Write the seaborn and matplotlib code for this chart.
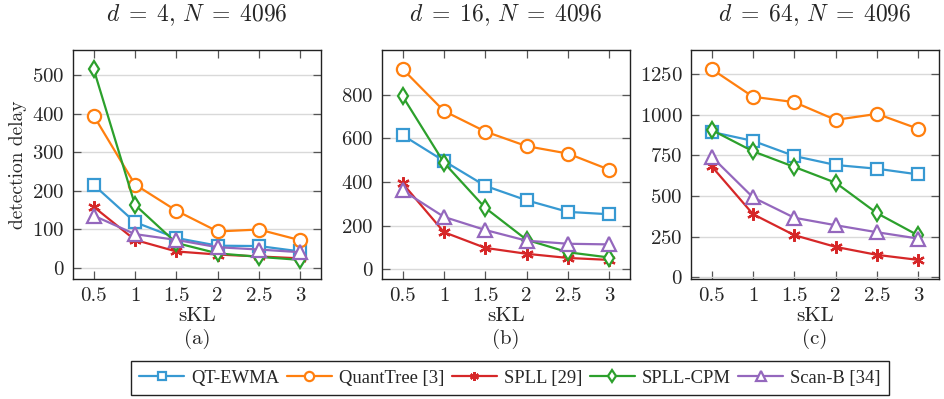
import numpy as np
import pandas as pd
import matplotlib
matplotlib.use("Agg")
import matplotlib.pyplot as plt
import seaborn as sns

# ---------------- data ----------------
skl = [0.5, 1, 1.5, 2, 2.5, 3]
xtick_labels = ["0.5", "1", "1.5", "2", "2.5", "3"]
methods = ["QT-EWMA", "QuantTree [3]", "SPLL [29]", "SPLL-CPM", "Scan-B [34]"]
titles = [r"$d\;=\;4,\,N\;=\;4096$", r"$d\;=\;16,\,N\;=\;4096$", r"$d\;=\;64,\,N\;=\;4096$"]
panel_tags = ["(a)", "(b)", "(c)"]

# panel (a): d = 4
a_qtewma = [215, 118, 77, 57, 56, 42]
a_quanttree = [395, 216, 148, 94, 99, 71]
a_spll = [158, 72, 42, 34, 29, 24]
a_spllcpm = [516, 163, 64, 37, 28, 20]
a_scanb = [135, 87, 72, 53, 47, 40]

# panel (b): d = 16
b_qtewma = [614, 496, 382, 316, 263, 252]
b_quanttree = [917, 725, 631, 564, 530, 456]
b_spll = [393, 170, 98, 71, 52, 43]
b_spllcpm = [792, 488, 281, 135, 78, 54]
b_scanb = [361, 240, 180, 131, 117, 114]

# panel (c): d = 64
c_qtewma = [893, 838, 745, 690, 667, 632]
c_quanttree = [1279, 1109, 1076, 967, 1004, 912]
c_spll = [682, 388, 259, 187, 138, 107]
c_spllcpm = [905, 774, 678, 581, 394, 257]
c_scanb = [741, 491, 366, 320, 277, 238]

yticks = [[0, 100, 200, 300, 400, 500],
          [0, 200, 400, 600, 800],
          [0, 250, 500, 750, 1000, 1250]]

panels = [
    [a_qtewma, a_quanttree, a_spll, a_spllcpm, a_scanb],
    [b_qtewma, b_quanttree, b_spll, b_spllcpm, b_scanb],
    [c_qtewma, c_quanttree, c_spll, c_spllcpm, c_scanb],
]

# ---------------- style ----------------
colors = ["#3799d2", "#ff7f0e", "#d62728", "#2ca02c", "#9467bd"]
markers = ["s", "o", (6, 2, 0), "d", "^"]
msizes = [9, 9.5, 9, 8.5, 9.5]

sns.set_theme(style="white")
plt.rcParams["font.family"] = ["cmr10", "DejaVu Serif"]
plt.rcParams["mathtext.fontset"] = "cm"
plt.rcParams["axes.formatter.use_mathtext"] = True

W, H = 944, 399
fig = plt.figure(figsize=(W / 100, H / 100), dpi=100)

lefts = [73, 382, 691]
ax_w = 248
top_px, bot_px = 50, 279

handles = None
for i, (left, series) in enumerate(zip(lefts, panels)):
    ax = fig.add_axes([left / W, 1 - bot_px / H, ax_w / W, (bot_px - top_px) / H])
    for name, vals, c, m, ms in zip(methods, series, colors, markers, msizes):
        df = pd.DataFrame({"sKL": skl, "delay": vals})
        sns.lineplot(data=df, x="sKL", y="delay", ax=ax, color=c, marker=m,
                     markersize=ms, markerfacecolor="white", markeredgecolor=c,
                     markeredgewidth=1.6, linewidth=1.6, label=name, legend=False)
    allv = np.concatenate([np.array(s, dtype=float) for s in series])
    lo, hi = allv.min(), allv.max()
    pad = 0.1 * (hi - lo)
    ax.set_ylim(lo - pad, hi + pad)
    ax.set_xlim(0.25, 3.25)
    ax.set_xticks(skl)
    ax.set_xticklabels(xtick_labels)
    ax.set_yticks(yticks[i])
    ax.yaxis.grid(True, color="#d9d9d9", linewidth=1.0)
    ax.xaxis.grid(False)
    ax.set_axisbelow(True)
    ax.tick_params(axis="both", which="major", direction="in", length=6,
                   width=0.9, color="#555555", labelsize=15,
                   top=True, right=True, bottom=True, left=True, pad=6)
    for sp in ax.spines.values():
        sp.set_color("#222222")
        sp.set_linewidth(1.0)
    ax.set_xlabel("sKL", fontsize=15, labelpad=1)
    if i == 0:
        ax.set_ylabel("detection delay", fontsize=14, labelpad=4)
    else:
        ax.set_ylabel("")
    ax.set_title(titles[i], fontsize=17, pad=21)
    fig.text((left + ax_w / 2) / W, 1 - 339 / H, panel_tags[i],
             ha="center", va="center", fontsize=15)
    if handles is None:
        handles, labels = ax.get_legend_handles_labels()

leg = fig.legend(handles, labels, loc="center", bbox_to_anchor=(510 / W, 1 - 378 / H),
                 ncol=5, frameon=True, fancybox=False, shadow=False,
                 prop={"family": "Liberation Serif", "size": 13.4},
                 handlelength=2.4, handletextpad=0.38, columnspacing=0.42,
                 borderpad=0.45, edgecolor="#222222", borderaxespad=0,
                 markerscale=0.7)
leg.get_frame().set_linewidth(1.0)
leg.get_frame().set_alpha(1)

fig.savefig("out.png", dpi=100)
